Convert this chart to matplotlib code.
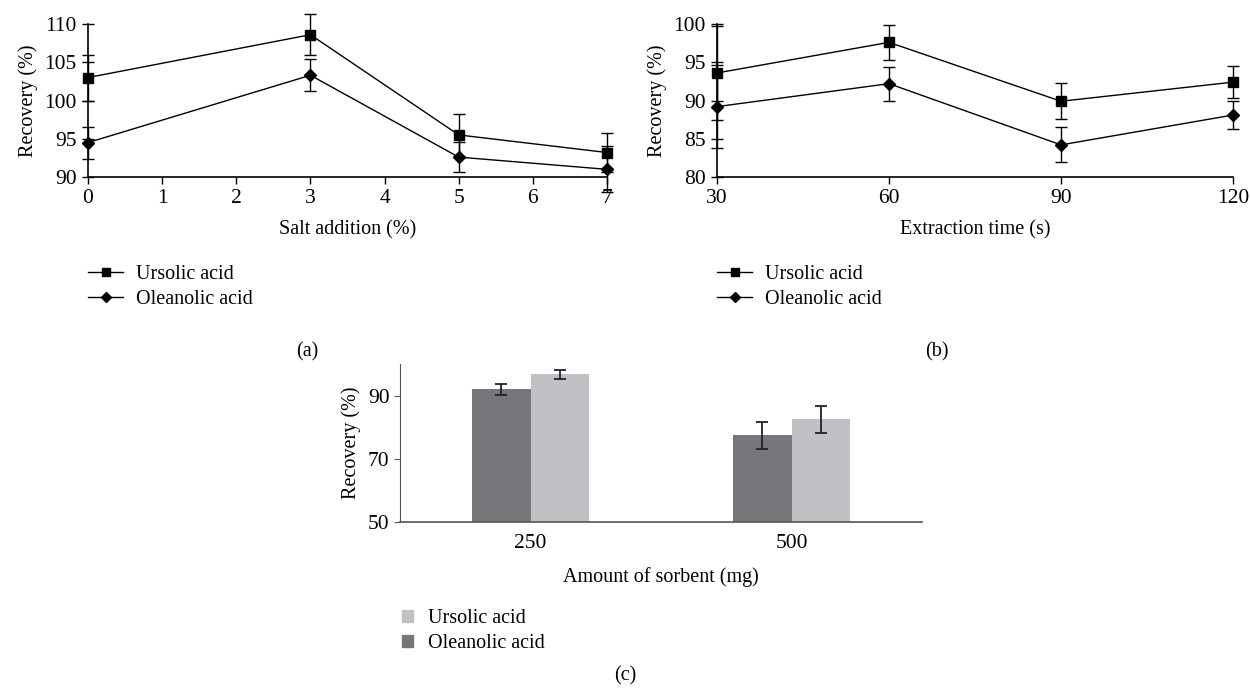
import numpy as np
import matplotlib
matplotlib.use('Agg')
import matplotlib.pyplot as plt
from matplotlib.lines import Line2D
from matplotlib.patches import Patch

plt.rcParams['font.family'] = ['Liberation Serif', 'DejaVu Serif']
plt.rcParams['font.size'] = 14.5
plt.rcParams['xtick.labelsize'] = 15.5
plt.rcParams['ytick.labelsize'] = 15.5

# (a) salt addition
salt = [0, 3, 5, 7]
salt_ursolic = [103.0, 108.6, 95.5, 93.2]
salt_ursolic_err = [3.0, 2.7, 2.8, 2.5]
salt_oleanolic = [94.5, 103.3, 92.6, 91.0]
salt_oleanolic_err = [2.1, 2.1, 2.0, 3.0]

# (b) extraction time
time_s = [30, 60, 90, 120]
time_ursolic = [93.6, 97.6, 89.9, 92.4]
time_ursolic_err = [6.1, 2.3, 2.35, 2.1]
time_oleanolic = [89.2, 92.2, 84.2, 88.1]
time_oleanolic_err = [5.4, 2.2, 2.3, 1.8]

# (c) amount of sorbent
sorbent = ['250', '500']
sorb_oleanolic = [92.0, 77.4]
sorb_oleanolic_err = [1.8, 4.3]
sorb_ursolic = [96.7, 82.5]
sorb_ursolic_err = [1.5, 4.3]

dark = '#76777b'
light = '#c0c1c4'

fig = plt.figure(figsize=(12.5, 6.88), dpi=100)
W, H = 1250.0, 688.0

def ax_at(l, t, r, b):
    return fig.add_axes([l / W, 1 - b / H, (r - l) / W, (b - t) / H])

def line_panel(ax, x, u, ue, o, oe):
    ax.errorbar(x, u, yerr=ue, color='k', lw=1, marker='s', ms=6.5,
                capsize=4, elinewidth=1, capthick=1, clip_on=False, zorder=3)
    ax.errorbar(x, o, yerr=oe, color='k', lw=1, marker='D', ms=6.3,
                capsize=4, elinewidth=1, capthick=1, clip_on=False, zorder=3)
    for s in ['top', 'right']:
        ax.spines[s].set_visible(False)
    ax.spines['left'].set_linewidth(1.2)
    ax.spines['bottom'].set_linewidth(1.2)
    ax.tick_params(axis='y', direction='inout', length=8, width=1, pad=4)
    ax.tick_params(axis='x', direction='out', length=5, width=1)
    ax.set_ylabel('Recovery (%)', labelpad=5)

def line_legend(x0):
    h = [Line2D([], [], color='k', lw=1, marker='s', ms=6),
         Line2D([], [], color='k', lw=1, marker='D', ms=5.5)]
    fig.legend(h, ['Ursolic acid', 'Oleanolic acid'], loc='upper left',
               bbox_to_anchor=(x0 / W, 1 - 265 / H), frameon=False,
               handlelength=1.75, handletextpad=0.65, labelspacing=0.3,
               borderaxespad=0, borderpad=0)

# panel (a)
ax1 = ax_at(88, 24, 607, 177)
line_panel(ax1, salt, salt_ursolic, salt_ursolic_err, salt_oleanolic, salt_oleanolic_err)
ax1.set_xlim(0, 7)
ax1.set_ylim(90, 110)
ax1.set_xticks(range(0, 8))
ax1.set_yticks([90, 95, 100, 105, 110])
ax1.set_xlabel('Salt addition (%)', labelpad=9)
line_legend(88)
fig.text(307 / W, 1 - 352 / H, '(a)', ha='center', va='center')

# panel (b)
ax2 = ax_at(717, 24, 1233, 177)
line_panel(ax2, time_s, time_ursolic, time_ursolic_err, time_oleanolic, time_oleanolic_err)
ax2.set_xlim(30, 120)
ax2.set_ylim(80, 100)
ax2.set_xticks([30, 60, 90, 120])
ax2.set_yticks([80, 85, 90, 95, 100])
ax2.set_xlabel('Extraction time (s)', labelpad=9)
line_legend(717)
fig.text(937 / W, 1 - 352 / H, '(b)', ha='center', va='center')

# panel (c)
ax3 = ax_at(400, 364, 922, 522)
pos = np.arange(len(sorbent))
w = 0.223
ax3.bar(pos - w / 2, sorb_oleanolic, w, color=dark, zorder=2)
ax3.bar(pos + w / 2, sorb_ursolic, w, color=light, zorder=2)
ax3.errorbar(pos - w / 2, sorb_oleanolic, yerr=sorb_oleanolic_err, fmt='none',
             ecolor='#222222', elinewidth=1.3, capsize=4, capthick=1.3, zorder=3)
ax3.errorbar(pos + w / 2, sorb_ursolic, yerr=sorb_ursolic_err, fmt='none',
             ecolor='#222222', elinewidth=1.3, capsize=4, capthick=1.3, zorder=3)
ax3.set_xlim(-0.5, 1.5)
ax3.set_ylim(50, 100)
ax3.set_yticks([50, 70, 90])
ax3.set_xticks(pos)
ax3.set_xticklabels(sorbent)
for s in ['top', 'right']:
    ax3.spines[s].set_visible(False)
ax3.spines['left'].set_color('#555555')
ax3.spines['bottom'].set_color('#555555')
ax3.spines['bottom'].set_linewidth(1.2)
ax3.tick_params(axis='x', length=0, pad=9)
ax3.tick_params(axis='y', length=4, color='#555555')
ax3.set_ylabel('Recovery (%)', labelpad=5)
ax3.set_xlabel('Amount of sorbent (mg)', labelpad=10)
hb = [Patch(color=light), Patch(color=dark)]
fig.legend(hb, ['Ursolic acid', 'Oleanolic acid'], loc='upper left',
           bbox_to_anchor=(402 / W, 1 - 609 / H), frameon=False,
           handlelength=0.55, handleheight=0.55, handletextpad=0.75,
           labelspacing=0.3, borderaxespad=0, borderpad=0)
fig.text(625 / W, 1 - 676 / H, '(c)', ha='center', va='center')

fig.savefig('out.png', dpi=100)
